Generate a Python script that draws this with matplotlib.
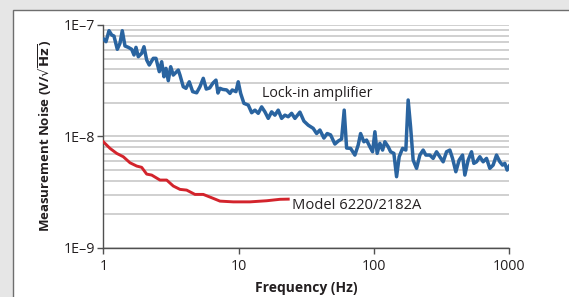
import matplotlib
matplotlib.use("Agg")
import matplotlib.pyplot as plt
from matplotlib.patches import Rectangle
from matplotlib.ticker import FixedLocator, LogLocator, NullFormatter

# ---- data (frequency in Hz, noise in units of 1e-8 V/sqrt(Hz)) ----
lockin_freq = [1.01, 1.047, 1.102, 1.154, 1.199, 1.269, 1.328, 1.381, 1.446, 1.530,
               1.621, 1.686, 1.744, 1.814, 1.921, 1.998, 2.092, 2.186, 2.340, 2.450,
               2.592, 2.700, 2.808, 2.905, 3.021, 3.147, 3.289, 3.581, 3.686, 3.898,
               4.081, 4.317, 4.575, 4.896, 5.178, 5.479, 5.765, 6.108, 6.460, 6.800,
               7.035, 7.279, 7.619, 8.155, 8.627, 8.971, 9.552, 9.93, 10.35, 10.94,
               11.78, 12.48, 13.20, 13.96, 14.79, 15.64, 16.55, 17.53, 18.54, 19.61,
               20.78, 21.98, 23.25, 24.63, 26.06, 28.37, 30.37, 32.67, 35.56, 37.69,
               39.86, 42.66, 45.13, 47.81, 51.44, 54.41, 57.65, 60.26, 62.77, 67.19,
               72.28, 76.45, 79.63, 84.24, 88.18, 93.29, 97.65, 101.6, 105.6, 110.6,
               115.8, 120.4, 127.4, 132.7, 140.3, 146.9, 153.6, 162.7, 172.0, 178.9,
               186.4, 194.8, 206.4, 218.3, 230.9, 241.8, 258.8, 273.7, 290.0, 306.8,
               324.5, 343.8, 363.6, 380.7, 402.7, 426.0, 451.3, 469.4, 496.4, 525.9,
               546.9, 572.6, 605.7, 640.7, 678.7, 718.0, 759.5, 804.6, 851.1, 891.1,
               926.7, 963.7, 1000.0]
lockin_noise = [7.44, 7.08, 8.89, 8.13, 7.96, 6.05, 6.85, 8.89, 6.48, 6.30,
                6.05, 5.38, 6.30, 5.19, 5.57, 6.38, 4.85, 4.37, 5.02, 5.02,
                3.81, 4.68, 3.43, 4.08, 3.16, 4.22, 3.55, 3.94, 3.55, 2.79,
                2.70, 3.09, 2.52, 2.46, 2.79, 3.32, 2.66, 2.72, 3.01, 3.20,
                2.45, 2.70, 2.64, 2.61, 2.43, 2.61, 2.52, 3.09, 2.43, 1.98,
                1.91, 1.63, 1.72, 1.61, 1.84, 1.66, 1.45, 1.66, 1.55, 1.72,
                1.45, 1.55, 1.50, 1.61, 1.45, 1.65, 1.37, 1.26, 1.18, 1.06,
                1.14, 0.965, 1.06, 1.03, 0.853, 0.907, 0.946, 1.72, 0.785, 0.780,
                0.679, 0.835, 1.06, 0.894, 0.926, 0.806, 0.727, 1.10, 0.703, 0.865,
                0.753, 0.894, 0.806, 0.727, 0.703, 0.434, 0.656, 0.780, 0.753, 2.12,
                1.22, 0.612, 0.516, 0.679, 0.753, 0.679, 0.679, 0.634, 0.727, 0.656,
                0.591, 0.727, 0.753, 0.634, 0.481, 0.612, 0.679, 0.449, 0.612, 0.727,
                0.572, 0.591, 0.656, 0.591, 0.634, 0.516, 0.552, 0.679, 0.591, 0.552,
                0.572, 0.498, 0.541]

model_freq = [1.0, 1.121, 1.256, 1.405, 1.575, 1.765, 1.921, 2.092, 2.278, 2.623,
              2.940, 3.289, 3.686, 4.130, 4.757, 5.479, 6.319, 7.279, 9.125, 12.12,
              16.10, 20.19, 23.25]
model_noise = [0.894, 0.780, 0.703, 0.656, 0.579, 0.541, 0.527, 0.458, 0.449, 0.405,
               0.405, 0.358, 0.334, 0.329, 0.301, 0.301, 0.281, 0.262, 0.258, 0.258,
               0.264, 0.272, 0.273]

x_ticks = [1, 10, 100, 1000]
x_ticklabels = ["1", "10", "100", "1000"]
y_ticks = [1e-9, 1e-8, 1e-7]
y_ticklabels = ["1E\u20139", "1E\u20138", "1E\u20137"]

series_labels = ["Lock-in amplifier", "Model 6220/2182A"]
x_label = "Frequency (Hz)"
y_label = r"Measurement Noise (V/$\mathbf{\sqrt{Hz}}$)"

SCALE = 1e-8
TXT = '#231f20'

plt.rcParams['font.family'] = ['Open Sans', 'DejaVu Sans']
plt.rcParams['mathtext.fontset'] = 'dejavusans'

fig = plt.figure(figsize=(5.69, 2.97), dpi=100)
fig.patch.set_facecolor('#e6e6e6')
panel = Rectangle((13 / 569, -0.05), 1.0, (297 - 10) / 297 + 0.05,
                  transform=fig.transFigure, facecolor='white',
                  edgecolor='#6e6e6e', linewidth=1.0, zorder=-10)
fig.patches.append(panel)

ax = fig.add_axes([103.3 / 569, 1 - 247.7 / 297, (509.3 - 103.3) / 569, (247.7 - 25) / 297])
ax.set_zorder(5)
ax.set_facecolor('none')
ax.set_xscale('log')
ax.set_yscale('log')
ax.set_xlim(1, 1000)
ax.set_ylim(1e-9, 1e-7)

ax.plot(lockin_freq, [v * SCALE for v in lockin_noise], color='#2a64a0', lw=2.5,
        solid_joinstyle='round', zorder=3)
ax.plot(model_freq, [v * SCALE for v in model_noise], color='#d3242c', lw=2.1,
        solid_joinstyle='round', zorder=3)

ax.yaxis.set_major_locator(FixedLocator(y_ticks))
ax.yaxis.set_minor_locator(LogLocator(base=10, subs=range(2, 10)))
ax.yaxis.set_minor_formatter(NullFormatter())
ax.set_yticklabels(y_ticklabels)
ax.xaxis.set_major_locator(FixedLocator(x_ticks))
ax.xaxis.set_minor_locator(FixedLocator([]))
ax.set_xticklabels(x_ticklabels)

ax.grid(True, which='both', axis='y', color='#c4c4c4', lw=1.1)
ax.grid(False, axis='x')
ax.set_axisbelow(True)

for s in ['top', 'right']:
    ax.spines[s].set_visible(False)
for s in ['left', 'bottom']:
    ax.spines[s].set_color('#505050')
    ax.spines[s].set_linewidth(1.0)

ax.tick_params(axis='x', which='major', length=4, width=1.0, color='#505050',
               labelsize=10.3, labelcolor=TXT, pad=4)
ax.tick_params(axis='y', which='major', length=4, width=1.0, color='#505050',
               labelsize=10.3, labelcolor=TXT, pad=2)
ax.tick_params(axis='y', which='minor', length=0)

ax.set_xlabel(x_label, fontsize=10, fontweight='bold', color=TXT, labelpad=5)
ax.set_ylabel(y_label, fontsize=9.5, fontweight='bold', color=TXT, labelpad=7)

ax.text(14.9, 2.42e-8, series_labels[0], fontsize=10.3,
        color=TXT, ha='left', va='center')
ax.text(25.0, 2.37e-9, series_labels[1], fontsize=10.6, color=TXT,
        ha='left', va='center')

fig.savefig('out.png', dpi=100, facecolor=fig.get_facecolor())
